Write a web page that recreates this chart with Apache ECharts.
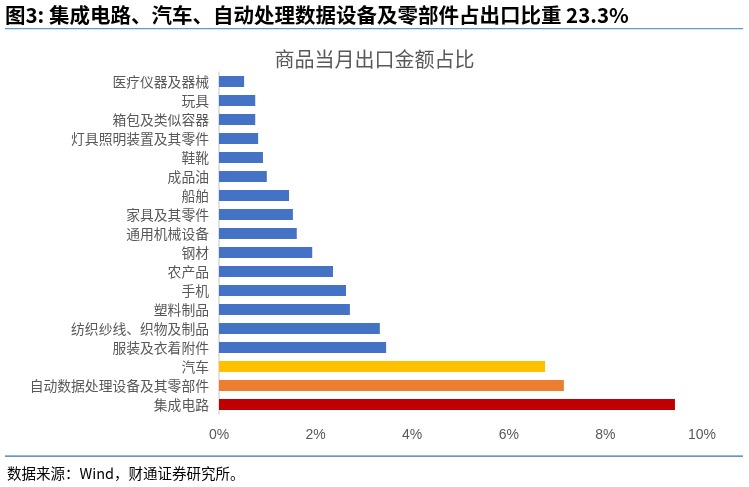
<!DOCTYPE html>
<html>
<head>
<meta charset="utf-8">
<script src="https://cdn.jsdelivr.net/npm/echarts@6/dist/echarts.min.js"></script>
<style>
  html, body { margin: 0; padding: 0; background: #fff; }
  #chart { width: 749px; height: 487px; }
</style>
</head>
<body>
<div id="chart"></div>
<script>
// 从下往上排列（类目轴第一个在最下面）
const categories = [
  '集成电路', '自动数据处理设备及其零部件', '汽车', '服装及衣着附件',
  '纺织纱线、织物及制品', '塑料制品', '手机', '农产品', '钢材',
  '通用机械设备', '家具及其零件', '船舶', '成品油', '鞋靴',
  '灯具照明装置及其零件', '箱包及类似容器', '玩具', '医疗仪器及器械'
]
const shares = [
  9.44, 7.14, 6.75, 3.46, 3.33, 2.71, 2.63, 2.36, 1.93,
  1.61, 1.53, 1.45, 0.99, 0.91, 0.81, 0.75, 0.75, 0.52
]
const barColors = ['#C00000', '#ED7D31', '#FFC000']
const xTicks = [0, 2, 4, 6, 8, 10]

const cjk = '"Noto Sans CJK SC", sans-serif'
const chart = echarts.init(document.getElementById('chart'))

const option = {
  animation: false,
  backgroundColor: '#fff',
  title: {
    text: '商品当月出口金额占比',
    left: 'center',
    top: 44,
    textStyle: { fontFamily: cjk, fontSize: 20, fontWeight: 'normal', color: '#595959' }
  },
  grid: { left: 219, right: 47, top: 72, bottom: 73, containLabel: false },
  xAxis: {
    type: 'value',
    min: xTicks[0],
    max: xTicks[xTicks.length - 1],
    interval: 2,
    axisLine: { show: false },
    axisTick: { show: false },
    splitLine: { show: false },
    axisLabel: {
      margin: 14,
      color: '#595959',
      fontFamily: 'Liberation Sans, Arial, sans-serif',
      fontSize: 14,
      formatter: v => v + '%'
    }
  },
  yAxis: {
    type: 'category',
    data: categories,
    axisLine: { show: true, lineStyle: { color: '#D9D9D9', width: 1.5 } },
    axisTick: { show: false },
    axisLabel: { margin: 10, color: '#595959', fontFamily: cjk, fontSize: 13.8 }
  },
  series: [{
    type: 'bar',
    data: shares.map((v, i) => ({
      value: v,
      itemStyle: { color: barColors[i] || '#4472C4' }
    })),
    barWidth: 11
  }],
  graphic: [
    {
      type: 'text', left: 5, top: 5,
      style: {
        text: '图3: 集成电路、汽车、自动处理数据设备及零部件占出口比重 23.3%',
        font: 'bold 20.5px "Noto Sans CJK SC", sans-serif',
        fill: '#000'
      }
    },
    { type: 'rect', shape: { x: 5, y: 28, width: 738, height: 1.2 }, style: { fill: '#5B9BD5' } },
    { type: 'rect', shape: { x: 5, y: 455.5, width: 738, height: 1.2 }, style: { fill: '#2E75B6' } },
    {
      type: 'text', left: 7, top: 466,
      style: {
        text: '数据来源：Wind，财通证券研究所。',
        font: '14.5px "Noto Sans CJK SC", sans-serif',
        fill: '#000'
      }
    }
  ]
}

chart.setOption(option)
</script>
</body>
</html>
